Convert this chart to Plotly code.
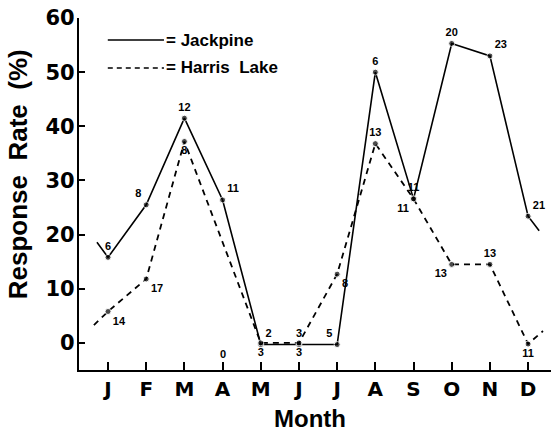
import plotly.graph_objects as go

months = ["J", "F", "M", "A", "M", "J", "J", "A", "S", "O", "N", "D"]
month_pos = [1, 2, 3, 4, 5, 6, 7, 8, 9, 10, 11, 12]

# Jackpine (solid) — response rate (%) and n labels
jack_x = [0.71, 1, 2, 3, 4, 5, 6, 7, 8, 9, 10, 11, 12, 12.29]
jack_y = [18.6, 15.8, 25.5, 41.5, 26.4, -0.3, -0.3, -0.3, 50.0, 26.6, 55.3, 53.0, 23.4, 20.7]
jack_n = ["", "6", "8", "12", "11", "2", "3", "5", "6", "11", "20", "23", "21", ""]
jack_pos = ["top center", "top center", "top left", "top center", "top right", "top right",
            "top center", "top left", "top center", "top center", "top center", "top right",
            "top right", "top center"]

# Harris Lake (dashed) — April has no respondents (n = 0)
harr_x = [0.63, 1, 2, 3, 5, 6, 7, 8, 9, 10, 11, 12, 12.39]
harr_y = [3.3, 5.8, 11.8, 37.2, 0.0, 0.0, 12.7, 36.8, 26.6, 14.5, 14.5, -0.2, 2.2]
harr_n = ["", "14", "17", "8", "3", "3", "8", "13", "11", "13", "13", "11", ""]
harr_pos = ["bottom center", "bottom right", "bottom right", "bottom center", "bottom center",
            "bottom center", "bottom right", "top center", "bottom left", "bottom left",
            "top center", "bottom center", "bottom center"]
harr_zero_month = 4
harr_zero_label = "0"

y_ticks = [0, 10, 20, 30, 40, 50, 60]

label_font = dict(family="Liberation Sans", size=11, color="#000000", weight="bold")

def sizes(labels):
    return [0 if t == "" else 6 for t in labels]

fig = go.Figure()
fig.add_trace(go.Scatter(
    x=jack_x, y=jack_y, mode="lines+markers+text",
    line=dict(color="black", width=1.6),
    marker=dict(color="black", size=sizes(jack_n)),
    text=jack_n, textposition=jack_pos, textfont=label_font,
    cliponaxis=False, showlegend=False))
fig.add_trace(go.Scatter(
    x=harr_x, y=harr_y, mode="lines+markers+text",
    line=dict(color="black", width=1.8, dash="6px,5px"),
    marker=dict(color="black", size=sizes(harr_n)),
    text=harr_n, textposition=harr_pos, textfont=label_font,
    cliponaxis=False, showlegend=False))

fig.add_annotation(x=harr_zero_month, y=0, text=harr_zero_label, showarrow=False,
                   yshift=-11, font=label_font)

# legend drawn as line samples + text
fig.add_shape(type="line", xref="paper", yref="paper", x0=0.061, x1=0.18, y0=0.9375, y1=0.9375,
              line=dict(color="black", width=1.5))
fig.add_shape(type="line", xref="paper", yref="paper", x0=0.061, x1=0.18, y0=0.858, y1=0.858,
              line=dict(color="black", width=1.5, dash="5px,4px"))
fig.add_annotation(xref="paper", yref="paper", x=0.18, y=0.9375, xanchor="left", yanchor="middle",
                   text="<b>= Jackpine</b>", showarrow=False,
                   font=dict(family="Liberation Sans", size=17, color="black"))
fig.add_annotation(xref="paper", yref="paper", x=0.18, y=0.858, xanchor="left", yanchor="middle",
                   text="<b>= Harris  Lake</b>", showarrow=False,
                   font=dict(family="Liberation Sans", size=17, color="black"))

# axis titles as annotations
fig.add_annotation(xref="paper", yref="paper", x=-0.13, y=0.555, xanchor="center", yanchor="middle",
                   text="<b>Response  Rate  (%)</b>", textangle=-90, showarrow=False,
                   font=dict(family="Liberation Sans", size=26, color="black"))
fig.add_annotation(xref="paper", yref="paper", x=0.49, y=-0.138, xanchor="center", yanchor="middle",
                   text="<b>Month</b>", showarrow=False,
                   font=dict(family="Liberation Sans", size=24, color="black"))

fig.update_layout(
    width=551, height=433,
    margin=dict(l=79, r=0, t=18, b=63),
    paper_bgcolor="white", plot_bgcolor="white",
    xaxis=dict(range=[0.24, 12.6], tickvals=month_pos, ticktext=months, automargin=False,
               showline=True, linecolor="black", linewidth=2.2,
               ticks="inside", ticklen=8, tickwidth=1.5, tickcolor="black",
               showgrid=False, zeroline=False,
               tickfont=dict(family="DejaVu Sans", size=20, color="black", weight="bold")),
    yaxis=dict(range=[-5, 60], tickvals=y_ticks, automargin=False,
               showline=True, linecolor="black", linewidth=2.2,
               ticks="inside", ticklen=6, tickwidth=1.5, tickcolor="black",
               showgrid=False, zeroline=False, ticklabelstandoff=-2,
               tickfont=dict(family="DejaVu Sans", size=21, color="black", weight="bold")),
)

fig.write_html("out.html", config={"displayModeBar": False},
               post_script="document.body.style.margin='0px';document.body.style.overflow='hidden';")
